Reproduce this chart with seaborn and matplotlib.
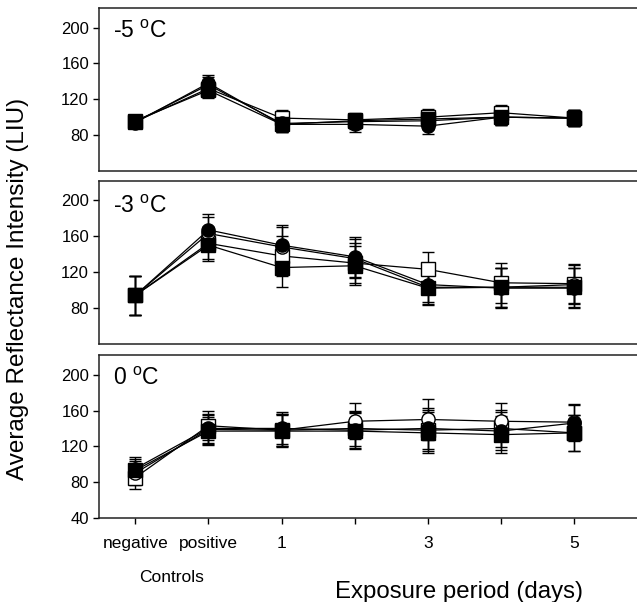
import matplotlib
matplotlib.use("Agg")
import pandas as pd
import matplotlib.pyplot as plt
import seaborn as sns

# x categories (controls + exposure days)
positions = ["negative", "positive", "1", "2", "3", "4", "5"]
tick_labels = ["negative", "positive", "1", "", "3", "", "5"]
panel_names = ["-5", "-3", "0"]
series_names = ["open square", "open circle", "filled square", "filled circle"]

# -5 C
m5_os = [95, 132, 99, 97, 100, 105, 99]
m5_oc = [95, 136, 93, 95, 96, 100, 99]
m5_fs = [96, 130, 92, 96, 98, 100, 99]
m5_fc = [94, 138, 92, 92, 90, 100, 99]
m5_err = [6, 9, 9, 8, 9, 9, 9]

# -3 C
m3_os = [94, 152, 138, 130, 123, 108, 107]
m3_oc = [94, 163, 148, 135, 103, 103, 106]
m3_fs = [94, 150, 125, 127, 102, 103, 103]
m3_fc = [94, 167, 150, 137, 106, 102, 102]
m3_err = [22, 18, 22, 22, 19, 22, 22]

# 0 C
z_os = [85, 143, 138, 140, 138, 140, 135]
z_oc = [90, 139, 138, 148, 150, 148, 147]
z_fs = [93, 137, 137, 137, 135, 133, 135]
z_fc = [95, 140, 140, 138, 140, 137, 146]
z_err = [13, 16, 18, 20, 23, 21, 20]

values = {
    "-5": [m5_os, m5_oc, m5_fs, m5_fc],
    "-3": [m3_os, m3_oc, m3_fs, m3_fc],
    "0": [z_os, z_oc, z_fs, z_fc],
}
errors = {"-5": m5_err, "-3": m3_err, "0": z_err}

rows = []
for p in panel_names:
    for s, vals in zip(series_names, values[p]):
        for i, v in enumerate(vals):
            rows.append([p, s, i, v, errors[p][i]])
df = pd.DataFrame(rows, columns=["panel", "series", "pos", "value", "err"])

styles = {
    "open square": ("s", "white"),
    "open circle": ("o", "white"),
    "filled square": ("s", "black"),
    "filled circle": ("o", "black"),
}

sns.set_style("ticks")
plt.rcParams["font.family"] = ["Liberation Sans", "DejaVu Sans"]
plt.rcParams["mathtext.fontset"] = "custom"
plt.rcParams["mathtext.rm"] = "Liberation Sans"
plt.rcParams["text.color"] = "black"
plt.rcParams["xtick.color"] = "black"
plt.rcParams["ytick.color"] = "black"

fig = plt.figure(figsize=(6.37, 6.02), dpi=100)
boxes = [(0.155, 0.716, 0.845, 0.271),
         (0.155, 0.429, 0.845, 0.271),
         (0.155, 0.140, 0.845, 0.270)]
label_y = [0.815, 0.80, 0.815]

for k, p in enumerate(panel_names):
    ax = fig.add_axes(boxes[k])
    sub = df[df.panel == p]
    for s in series_names:
        d = sub[sub.series == s]
        ax.errorbar(d["pos"], d["value"], yerr=d["err"], fmt="none",
                    ecolor="black", elinewidth=1, capsize=4.5, capthick=1, zorder=2)
        mk, face = styles[s]
        sns.lineplot(data=d, x="pos", y="value", ax=ax, color="black",
                     marker=mk, markersize=9.5, markerfacecolor=face,
                     markeredgecolor="black", markeredgewidth=1,
                     linewidth=0.9, zorder=3)
    ax.set_xlim(-0.5, 6.86)
    ax.set_ylim(40, 222)
    ax.set_yticks([80, 120, 160, 200] if k < 2 else [40, 80, 120, 160, 200])
    ax.set_xlabel("")
    ax.set_ylabel("")
    ax.spines["right"].set_visible(False)
    for sp in ["left", "top", "bottom"]:
        ax.spines[sp].set_linewidth(1.1)
        ax.spines[sp].set_color("#222222")
    ax.tick_params(axis="y", direction="out", length=4, width=1, pad=3, labelsize=12)
    if k < 2:
        ax.tick_params(axis="x", bottom=False, labelbottom=False)
    else:
        ax.set_xticks(range(len(positions)))
        ax.set_xticklabels(tick_labels)
        ax.tick_params(axis="x", direction="out", length=4, width=1, pad=9, labelsize=12.5)
    ax.text(0.026, label_y[k], p + r" $^{\mathrm{o}}$C", transform=ax.transAxes,
            fontsize=16.5, va="baseline", ha="left")

fig.text(0.028, 0.52, "Average Reflectance Intensity (LIU)", rotation=90,
         ha="center", va="center", fontsize=17.5)
fig.text(0.27, 0.033, "Controls", ha="center", va="baseline", fontsize=12.5)
fig.text(0.72, 0.006, "Exposure period (days)", ha="center", va="baseline", fontsize=17.3)

fig.savefig("out.png", dpi=100)
